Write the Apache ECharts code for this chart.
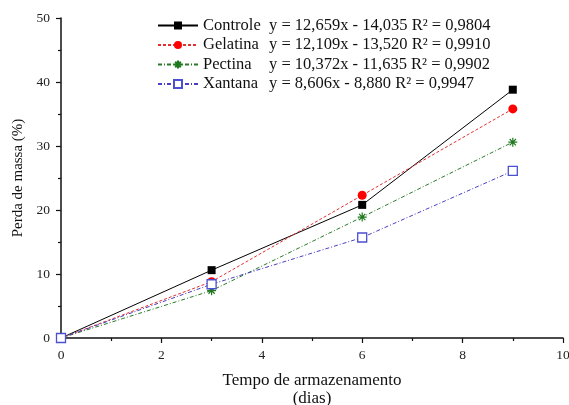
<!DOCTYPE html>
<html><head><meta charset="utf-8">
<script src="https://cdn.jsdelivr.net/npm/echarts@6/dist/echarts.min.js"></script>
<style>html,body{margin:0;padding:0;background:#fff}#c{width:569px;height:405px}</style>
</head><body><div id="c"></div>
<script>
const days = [0, 3, 6, 9];
const controle = [0, 10.6, 20.8, 38.8];
const gelatina = [0, 8.8, 22.3, 35.8];
const pectina = [0, 7.4, 18.9, 30.6];
const xantana = [0, 8.4, 15.7, 26.1];
const seriesNames = ['Controle', 'Gelatina', 'Pectina', 'Xantana'];
const equations = [
  'y = 12,659x - 14,035 R\u00b2 = 0,9804',
  'y = 12,109x - 13,520 R\u00b2 = 0,9910',
  'y = 10,372x - 11,635 R\u00b2 = 0,9902',
  'y = 8,606x - 8,880 R\u00b2 = 0,9947'
];
const xTicks = [0, 2, 4, 6, 8, 10];
const yTicks = [0, 10, 20, 30, 40, 50];

const FONT = 'Liberation Serif';
const asterisk = 'path://M5,0 L5,10 M0,5 L10,5 M1.5,1.5 L8.5,8.5 M1.5,8.5 L8.5,1.5';
const pair = (vals) => days.map((d, i) => [d, vals[i]]);

const chart = echarts.init(document.getElementById('c'), null, {renderer: 'canvas'});
chart.setOption({
  animation: false,
  backgroundColor: '#fff',
  textStyle: {fontFamily: FONT},
  grid: {left: 61, right: 6, top: 18, bottom: 67, containLabel: false, outerBoundsMode: 'none'},
  legend: {
    left: 152, top: 12, orient: 'vertical', padding: 5,
    itemWidth: 40, itemHeight: 10, itemGap: 2.5,
    textStyle: {fontFamily: FONT, fontSize: 16.5, color: '#111', lineHeight: 16},
    formatter: (name) => '{n|' + name + '}{e|' + equations[seriesNames.indexOf(name)] + '}',
    data: seriesNames
  },
  xAxis: {
    type: 'value', min: xTicks[0], max: xTicks[xTicks.length - 1], interval: 2,
    name: 'Tempo de armazenamento\n(dias)', nameLocation: 'middle', nameGap: 34,
    nameTextStyle: {fontFamily: FONT, fontSize: 17, color: '#111', lineHeight: 18},
    axisLine: {show: true, onZero: false, lineStyle: {color: '#111', width: 1.5}},
    axisTick: {show: true, length: 5, lineStyle: {color: '#111', width: 1.2}},
    minorTick: {show: true, splitNumber: 2, length: 3, lineStyle: {color: '#111', width: 1.2}},
    splitLine: {show: false},
    axisLabel: {fontFamily: FONT, fontSize: 13.5, color: '#222', margin: 10}
  },
  yAxis: {
    type: 'value', min: yTicks[0], max: yTicks[yTicks.length - 1], interval: 10,
    name: 'Perda de massa (%)', nameLocation: 'middle', nameGap: 35,
    nameTextStyle: {fontFamily: FONT, fontSize: 15, color: '#111'},
    axisLine: {show: true, onZero: false, lineStyle: {color: '#111', width: 1.5}},
    axisTick: {show: true, length: 5, lineStyle: {color: '#111', width: 1.2}},
    minorTick: {show: true, splitNumber: 2, length: 3, lineStyle: {color: '#111', width: 1.2}},
    splitLine: {show: false},
    axisLabel: {fontFamily: FONT, fontSize: 13.5, color: '#222', margin: 11}
  },
  series: [
    {name: 'Controle', type: 'line', data: pair(controle), symbol: 'rect', symbolSize: 8,
     lineStyle: {color: '#000', width: 1, type: 'solid'},
     itemStyle: {color: '#000'}, z: 1},
    {name: 'Gelatina', type: 'line', data: pair(gelatina), symbol: 'circle', symbolSize: 9,
     lineStyle: {color: '#e03030', width: 1, type: [3, 2]},
     itemStyle: {color: '#ff0000'}, z: 2},
    {name: 'Pectina', type: 'line', data: pair(pectina), symbol: asterisk, symbolSize: 9,
     lineStyle: {color: '#2a7a2a', width: 1, type: [4, 2, 1, 2]},
     itemStyle: {color: '#1f7a1f', borderColor: '#1f7a1f', borderWidth: 1.2}, z: 3},
    {name: 'Xantana', type: 'line', data: pair(xantana), symbol: 'rect', symbolSize: 9,
     lineStyle: {color: '#4a3fc0', width: 1, type: [4, 2, 1, 2]},
     itemStyle: {color: '#fff', borderColor: '#4a50d0', borderWidth: 1.3}, z: 4}
  ]
});
// rich text styles for legend (name column fixed width, equation after)
chart.setOption({legend: {textStyle: {rich: {
  n: {width: 66, fontFamily: FONT, fontSize: 16.5, color: '#111', lineHeight: 16},
  e: {fontFamily: FONT, fontSize: 16.5, color: '#111', lineHeight: 16}
}}}});
</script></body></html>
